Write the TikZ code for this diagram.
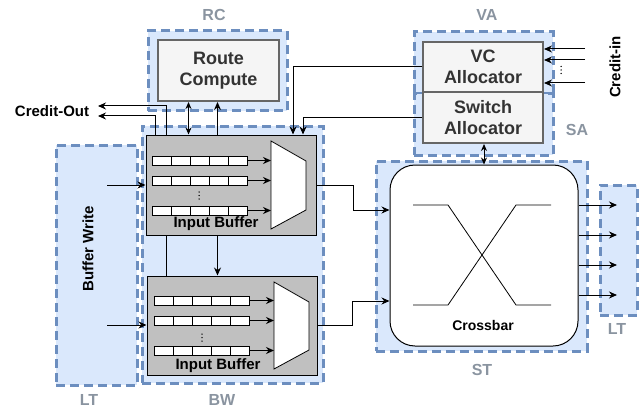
\documentclass[tikz,border=0pt]{standalone}
\usepackage{fontspec}
\setmainfont{Liberation Sans}
\definecolor{regfill}{RGB}{218,232,252}
\definecolor{regline}{RGB}{108,142,191}
\definecolor{boxfill}{RGB}{245,245,245}
\definecolor{boxline}{RGB}{102,102,102}
\definecolor{boxtext}{RGB}{51,51,51}
\definecolor{bufgray}{RGB}{192,192,192}
\definecolor{stagegray}{RGB}{138,148,160}
\usetikzlibrary{arrows.meta,positioning,calc}
\newcommand{\tinydots}[1]{%
	\foreach \d in {-3.5,0,3.5} \fill ($(#1)+(0,\d)$) circle (0.75pt);}

\begin{document}
\begin{tikzpicture}[x=1pt,y=-1pt,
				region/.style={draw=regline,fill=regfill,line width=3pt,
					dash pattern=on 9pt off 5pt,inner sep=0pt},
				unit/.style={draw=boxline,fill=boxfill,line width=2pt,inner sep=0pt,
					align=center,text=boxtext,font=\fontsize{18}{21}\selectfont\bfseries},
				buffer/.style={draw=black,fill=bufgray,line width=1pt,inner sep=0pt},
				cell/.style={draw=black,fill=white,line width=0.8pt,inner sep=0pt,
					minimum width=19pt,minimum height=9pt},
				stage/.style={text=stagegray,font=\fontsize{16}{19}\selectfont\bfseries},
				lbl/.style={font=\fontsize{15}{18}\selectfont\bfseries},
				arr/.style={-{Stealth[length=8pt,width=7pt]},line width=1pt},
				darr/.style={{Stealth[length=7pt,width=6pt]}-{Stealth[length=7pt,width=6pt]},line width=1pt}]
				
				\useasboundingbox (0,0) rectangle (639,417);
				
				% pipeline stages
				\node[region,minimum width=139pt,minimum height=80pt] (rcbg) at (217.5,71) {};
				\node[region,minimum width=139pt,minimum height=62pt] (vabg) at (483.5,63) {};
				\node[region,minimum width=139pt,minimum height=61pt] (sabg) at (483.5,124.5) {};
				\node[region,minimum width=181pt,minimum height=257pt] (bwbg) at (232.5,254.5) {};
				\node[region,minimum width=81pt,minimum height=240pt] (ltin) at (96.5,265) {};
				\node[region,minimum width=211pt,minimum height=190pt] (stbg) at (481.5,256) {};
				\node[region,minimum width=37pt,minimum height=130pt] (ltout) at (618.5,250) {};
				
				\node[stage] (rclbl) at (214,15) {RC};
				\node[stage] (valbl) at (487,15) {VA};
				\node[stage] (salbl) at (577,130) {SA};
				\node[stage] (bwlbl) at (222,400) {BW};
				\node[stage] (ltlbl) at (89,400) {LT};
				\node[stage] (stlbl) at (482,370) {ST};
				\node[stage] (ltlbl2) at (617,329) {LT};
				
				% units
				\node[unit,minimum width=121pt,minimum height=61pt] (rc) at (218.5,70.5) {Route\\Compute};
				\node[unit,minimum width=120pt,minimum height=50pt] (va) at (483,67) {VC\\Allocator};
				\node[unit,minimum width=120pt,minimum height=51pt] (sa) at (483,117.5) {Switch\\Allocator};
				
				\node[lbl,rotate=90] (bwtxt) at (88,249) {Buffer Write};
				
				% credit out (behind the upper buffer)
				\coordinate (co1) at (98,106);
				\coordinate (co2) at (98,116);
				\node[buffer,minimum width=170pt,minimum height=99pt] (ibB) at (232,325.5) {};
				\draw[arr] ([xshift=20pt]ibB.north west) |- (co1);
				\node[buffer,minimum width=170pt,minimum height=100pt] (ibA) at (231,185) {};
				\draw[arr] ([xshift=10pt]ibA.north west) |- (co2);
				\node[lbl] (cout) at (52,111) {Credit-Out};
				
				% input buffers
				\foreach \r/\y in {1/160.5,2/180.5,3/210.5}{
					\foreach \k in {0,...,4}
					\node[cell] (qA\r\k) at (161.5+19*\k,\y) {};
				}
				\foreach \r/\y in {1/300.5,2/320.5,3/350.5}{
					\foreach \k in {0,...,4}
					\node[cell] (qB\r\k) at (163.5+19*\k,\y) {};
				}
				\coordinate (dotsA) at (199,195.5);
				\coordinate (dotsB) at (202,337.5);
				\tinydots{dotsA}
				\tinydots{dotsB}
				\node[lbl] (ibAtxt) at (216,224) {Input Buffer};
				\node[lbl] (ibBtxt) at (218,366) {Input Buffer};
				
				\draw[fill=white,line width=0.8pt] (271,141) -- (306,161) -- (306,210) -- (271,229) -- cycle;
				\draw[fill=white,line width=0.8pt] (274,282) -- (309,302) -- (309,350) -- (274,369) -- cycle;
				\coordinate (muxA) at (271,185);
				\coordinate (muxB) at (274,325);
				\foreach \r in {1,2,3}{
					\draw[arr] (qA\r4.east) -- (qA\r4.east -| muxA);
					\draw[arr] (qB\r4.east) -- (qB\r4.east -| muxB);
				}
				
				% crossbar
				\node[draw=black,fill=white,line width=1pt,rounded corners=25pt,
				minimum width=188pt,minimum height=181pt] (xbar) at (484,255.5) {};
				\draw[line width=0.8pt] (413,205) -- (448,205) -- (516,305) -- (551,305);
				\draw[line width=0.8pt] (413,305) -- (448,305) -- (516,205) -- (551,205);
				\node[font=\fontsize{14}{17}\selectfont\bfseries] (xtxt) at (483,325) {Crossbar};
				
				% connections
				\coordinate (inA) at (107,185);
				\coordinate (inB) at (107,325);
				\draw[arr] (inA) -- (inA -| ibA.west);
				\draw[arr] (inB) -- (inB -| ibB.west);
				
				\draw[darr] ([xshift=43pt]ibA.north west) -- ([xshift=43pt]ibA.north west |- rc.south);
				\draw[arr] ([xshift=72pt]ibA.north west) -- ([xshift=72pt]ibA.north west |- rc.south);
				\draw[arr] ([xshift=72pt]ibA.south west) -- ([xshift=72pt]ibA.south west |- ibB.north);
				
				\coordinate (vaT) at (293,67);
				\coordinate (saT) at (303,117.5);
				\draw[arr] (va.west) -- (vaT) -- (vaT |- ibA.north);
				\draw[arr] (sa.west) -- (saT) -- (saT |- ibA.north);
				
				\coordinate (jA) at (353,210);
				\coordinate (jB) at (352,301);
				\draw[arr] (ibA.east) -| (jA) -- (jA -| xbar.west);
				\draw[arr] (ibB.east) -| (jB) -- (jB -| xbar.west);
				
				\draw[darr] (sa.south -| xbar.north) -- (xbar.north);
				
				\foreach \i/\y in {1/49,2/60,3/83}{
					\coordinate (ci\i) at (585,\y);
					\draw[arr] (ci\i) -- (ci\i -| va.east);
				}
				\coordinate (dotsC) at (561,70);
				\tinydots{dotsC}
				\node[lbl,rotate=90] (cin) at (615,67) {Credit-in};
				
				\foreach \i/\y in {1/205,2/235,3/265,4/295}{
					\coordinate (lo\i) at (617,\y);
					\draw[arr] (lo\i -| xbar.east) -- (lo\i);
				}
			\end{tikzpicture}
\end{document}
